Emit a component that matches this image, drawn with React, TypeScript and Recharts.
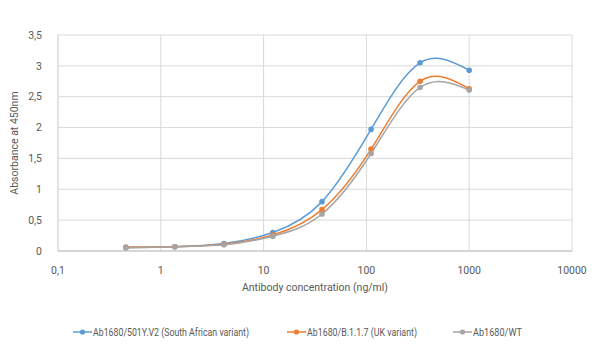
import React from 'react';
import { LineChart, Line, XAxis, YAxis, CartesianGrid, Legend } from 'recharts';

const concentrations = [0.457, 1.37, 4.12, 12.3, 37, 111, 333, 1000];
const southAfrican = [0.06, 0.07, 0.12, 0.3, 0.8, 1.97, 3.05, 2.93];
const ukVariant = [0.06, 0.07, 0.11, 0.26, 0.67, 1.65, 2.75, 2.63];
const wildType = [0.05, 0.07, 0.1, 0.24, 0.6, 1.58, 2.65, 2.61];

const xTicks = [0.1, 1, 10, 100, 1000, 10000];
const yTicks = [0, 0.5, 1, 1.5, 2, 2.5, 3, 3.5];
const minorTicks = [0.1, 1, 10, 100, 1000].flatMap(d => [2, 3, 4, 5, 6, 7, 8, 9].map(m => m * d));

const SERIES = [
  { key: 'sa', name: 'Ab1680/501Y.V2 (South African variant)', color: '#5b9bd5' },
  { key: 'uk', name: 'Ab1680/B.1.1.7 (UK variant)', color: '#ed7d31' },
  { key: 'wt', name: 'Ab1680/WT', color: '#a5a5a5' }
];

const chartData = concentrations.map((c, i) => ({
  conc: c,
  sa: southAfrican[i],
  uk: ukVariant[i],
  wt: wildType[i]
}));

const comma = (v: number) => String(v).replace('.', ',');

const TEXT = '#595959';
const FONT = 'Roboto, "Open Sans", sans-serif';

// legend item placement
const legendX = [73, 287, 453];
const legendTextW = [156, 110, 49];

const renderLegend = () => (
  <svg width={616} height={20} style={{ display: 'block' }}>
    {SERIES.map((s, i) => (
      <g key={s.key}>
        <line x1={legendX[i]} y1={9} x2={legendX[i] + 19} y2={9} stroke={s.color} strokeWidth={1.5} />
        <circle cx={legendX[i] + 9.5} cy={9} r={2.6} fill={s.color} />
        <text
          x={legendX[i] + 20}
          y={13}
          fill={TEXT}
          fontSize={11}
          fontFamily={FONT}
          textLength={legendTextW[i]}
          lengthAdjust="spacingAndGlyphs"
        >
          {s.name}
        </text>
      </g>
    ))}
  </svg>
);

export default function App() {
  return (
    <div style={{ position: 'absolute', left: 0, top: 0, width: 616, height: 354, background: '#fff' }}>
      <LineChart
        width={616}
        height={354}
        data={chartData}
        margin={{ top: 35, right: 44, left: 0, bottom: 40 }}
      >
        <CartesianGrid stroke="#d9d9d9" strokeWidth={1} />
        <XAxis
          xAxisId="minor"
          dataKey="conc"
          type="number"
          scale="log"
          domain={[0.1, 10000]}
          ticks={minorTicks}
          allowDataOverflow
          axisLine={false}
          tickLine={{ stroke: '#c8c8c8' }}
          tickSize={3}
          tick={false}
          height={0}
        />
        <XAxis
          dataKey="conc"
          type="number"
          scale="log"
          domain={[0.1, 10000]}
          ticks={xTicks}
          tickFormatter={comma}
          allowDataOverflow
          axisLine={{ stroke: '#bfbfbf' }}
          tickLine={false}
          tick={{ fill: TEXT, fontSize: 10.5, fontFamily: FONT }}
          tickMargin={10}
          height={43}
          label={{ value: 'Antibody concentration (ng/ml)', position: 'insideBottom', offset: 3, fill: TEXT, fontSize: 10.5, fontFamily: FONT }}
        />
        <YAxis
          type="number"
          domain={[0, 3.5]}
          ticks={yTicks}
          tickFormatter={comma}
          width={58}
          axisLine={{ stroke: '#d9d9d9' }}
          tickLine={false}
          tick={{ fill: TEXT, fontSize: 10.5, fontFamily: FONT }}
          tickMargin={10}
          label={{ value: 'Absorbance at 450nm', angle: -90, position: 'insideLeft', offset: 14, style: { textAnchor: 'middle' }, fill: TEXT, fontSize: 10.5, fontFamily: FONT }}
        />
        <Legend
          verticalAlign="bottom"
          content={renderLegend}
          wrapperStyle={{ position: 'absolute', top: 323, left: 0, width: 616 }}
        />
        {SERIES.map(s => (
          <Line
            key={s.key}
            dataKey={s.key}
            name={s.name}
            type="natural"
            stroke={s.color}
            strokeWidth={1.5}
            dot={{ r: 2.8, fill: s.color, stroke: s.color, strokeWidth: 0 }}
            isAnimationActive={false}
          />
        ))}
      </LineChart>
    </div>
  );
}
